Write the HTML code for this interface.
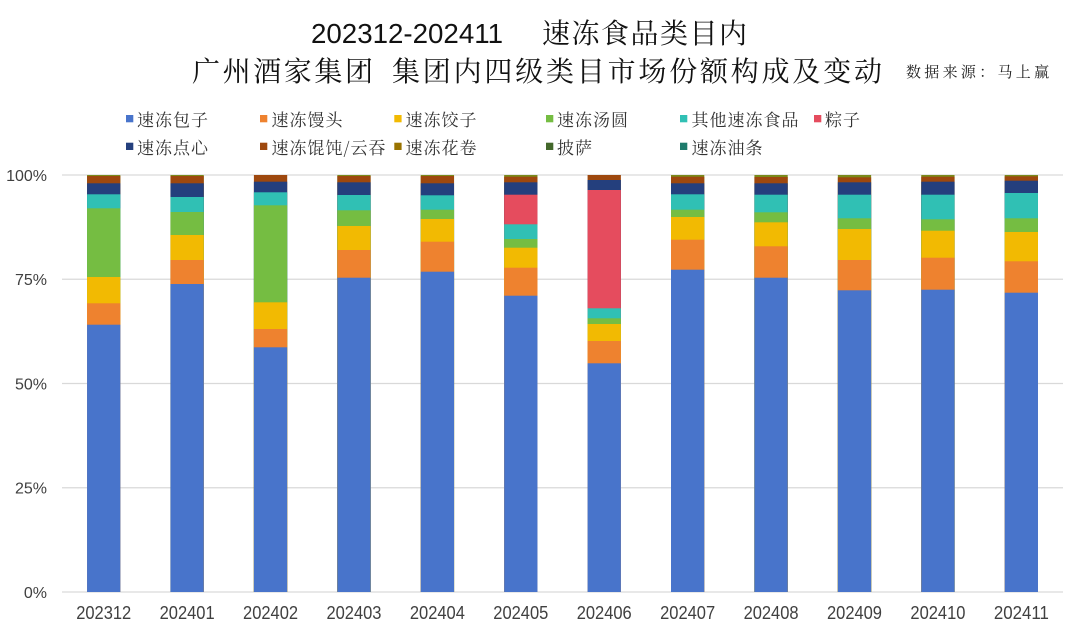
<!DOCTYPE html>
<html><head><meta charset="utf-8"><style>
html,body{margin:0;padding:0;background:#fff;}
svg{display:block;}
.cjk{font-family:"Noto Serif CJK SC","Noto Sans CJK SC",serif;}
.lat{font-family:"Liberation Sans","Noto Sans CJK SC",sans-serif;}
</style></head><body>
<svg width="1080" height="632" viewBox="0 0 1080 632" xmlns="http://www.w3.org/2000/svg">
<rect width="1080" height="632" fill="#fff"/>
<!-- titles -->
<text class="lat" x="311" y="43" font-size="28" fill="#111" textLength="192" lengthAdjust="spacingAndGlyphs">202312-202411</text>
<text class="cjk" x="542" y="43" font-size="28" fill="#111" style="letter-spacing:1.5px">速冻食品类目内</text>
<text class="cjk" x="192" y="81" font-size="28" fill="#111" style="letter-spacing:2.6px">广州酒家集团</text>
<text class="cjk" x="392" y="81" font-size="28" fill="#111" style="letter-spacing:2.8px">集团内四级类目市场份额构成及变动</text>
<text class="cjk" x="906" y="77" font-size="15" fill="#222" style="letter-spacing:3.3px">数据来源：马上赢</text>

<!-- legend -->
<g class="cjk" font-size="17" fill="#333" style="letter-spacing:1px">
<rect x="126" y="115" width="7.3" height="7.3" fill="#4874CB"/><text x="137" y="126">速冻包子</text>
<rect x="260" y="115" width="7.3" height="7.3" fill="#EE822F"/><text x="271.5" y="126">速冻馒头</text>
<rect x="394.3" y="115" width="7.3" height="7.3" fill="#F2BA02"/><text x="405.5" y="126">速冻饺子</text>
<rect x="546" y="115" width="7.3" height="7.3" fill="#75BD42"/><text x="557" y="126">速冻汤圆</text>
<rect x="680" y="115" width="7.3" height="7.3" fill="#30C0B4"/><text x="691.5" y="126">其他速冻食品</text>
<rect x="814" y="115" width="7.3" height="7.3" fill="#E54C5E"/><text x="825" y="126">粽子</text>
<rect x="126" y="142.7" width="7.3" height="7.3" fill="#243F7D"/><text x="137" y="154">速冻点心</text>
<rect x="260" y="142.7" width="7.3" height="7.3" fill="#9E480E"/><text x="271.5" y="154">速冻馄饨/云吞</text>
<rect x="394.3" y="142.7" width="7.3" height="7.3" fill="#997300"/><text x="405.5" y="154">速冻花卷</text>
<rect x="546" y="142.7" width="7.3" height="7.3" fill="#43682B"/><text x="557" y="154">披萨</text>
<rect x="680" y="142.7" width="7.3" height="7.3" fill="#1E7B6C"/><text x="691.5" y="154">速冻油条</text>
</g>

<!-- gridlines -->
<g stroke="#d9d9d9" stroke-width="1.2">
<line x1="62" y1="175" x2="1063" y2="175"/>
<line x1="62" y1="279.25" x2="1063" y2="279.25"/>
<line x1="62" y1="383.5" x2="1063" y2="383.5"/>
<line x1="62" y1="487.75" x2="1063" y2="487.75"/>
<line x1="62" y1="592" x2="1063" y2="592"/>
</g>

<!-- y labels -->
<g class="lat" font-size="16" fill="#404040" text-anchor="end">
<text x="47" y="180.8">100%</text>
<text x="47" y="285">75%</text>
<text x="47" y="389.3">50%</text>
<text x="47" y="493.5">25%</text>
<text x="47" y="597.8">0%</text>
</g>

<!-- bars: each rect extends to baseline, drawn top segment first -->
<g>
<g transform="translate(87.06,0)">
<rect y="175" width="33.3" height="417" fill="#7a8a1a"/>
<rect y="176" width="33.3" height="416" fill="#9E480E"/>
<rect y="183.3" width="33.3" height="408.7" fill="#243F7D"/>
<rect y="194.3" width="33.3" height="397.7" fill="#30C0B4"/>
<rect y="208.3" width="33.3" height="383.7" fill="#75BD42"/>
<rect y="277" width="33.3" height="315" fill="#F2BA02"/>
<rect y="303.3" width="33.3" height="288.7" fill="#EE822F"/>
<rect y="324.7" width="33.3" height="267.3" fill="#4874CB"/>
</g>
<g transform="translate(170.48,0)">
<rect y="175" width="33.3" height="417" fill="#7a8a1a"/>
<rect y="176" width="33.3" height="416" fill="#9E480E"/>
<rect y="183.3" width="33.3" height="408.7" fill="#243F7D"/>
<rect y="197" width="33.3" height="395" fill="#30C0B4"/>
<rect y="212" width="33.3" height="380" fill="#75BD42"/>
<rect y="235" width="33.3" height="357" fill="#F2BA02"/>
<rect y="260" width="33.3" height="332" fill="#EE822F"/>
<rect y="284" width="33.3" height="308" fill="#4874CB"/>
</g>
<g transform="translate(253.9,0)">
<rect y="175" width="33.3" height="417" fill="#9E480E"/>
<rect y="181.7" width="33.3" height="410.3" fill="#243F7D"/>
<rect y="192.3" width="33.3" height="399.7" fill="#30C0B4"/>
<rect y="205.3" width="33.3" height="386.7" fill="#75BD42"/>
<rect y="302.3" width="33.3" height="289.7" fill="#F2BA02"/>
<rect y="329" width="33.3" height="263" fill="#EE822F"/>
<rect y="347.3" width="33.3" height="244.7" fill="#4874CB"/>
</g>
<g transform="translate(337.32,0)">
<rect y="175" width="33.3" height="417" fill="#7a8a1a"/>
<rect y="176" width="33.3" height="416" fill="#9E480E"/>
<rect y="182.3" width="33.3" height="409.7" fill="#243F7D"/>
<rect y="195" width="33.3" height="397" fill="#30C0B4"/>
<rect y="210.3" width="33.3" height="381.7" fill="#75BD42"/>
<rect y="226" width="33.3" height="366" fill="#F2BA02"/>
<rect y="250" width="33.3" height="342" fill="#EE822F"/>
<rect y="277.7" width="33.3" height="314.3" fill="#4874CB"/>
</g>
<g transform="translate(420.74,0)">
<rect y="175" width="33.3" height="417" fill="#7a8a1a"/>
<rect y="176" width="33.3" height="416" fill="#9E480E"/>
<rect y="183.3" width="33.3" height="408.7" fill="#243F7D"/>
<rect y="195.3" width="33.3" height="396.7" fill="#30C0B4"/>
<rect y="209.7" width="33.3" height="382.3" fill="#75BD42"/>
<rect y="219" width="33.3" height="373" fill="#F2BA02"/>
<rect y="241.7" width="33.3" height="350.3" fill="#EE822F"/>
<rect y="271.7" width="33.3" height="320.3" fill="#4874CB"/>
</g>
<g transform="translate(504.16,0)">
<rect y="175" width="33.3" height="417" fill="#7a8a1a"/>
<rect y="176.7" width="33.3" height="415.3" fill="#9E480E"/>
<rect y="182.3" width="33.3" height="409.7" fill="#243F7D"/>
<rect y="194.7" width="33.3" height="397.3" fill="#E54C5E"/>
<rect y="224.3" width="33.3" height="367.7" fill="#30C0B4"/>
<rect y="239" width="33.3" height="353" fill="#75BD42"/>
<rect y="247.7" width="33.3" height="344.3" fill="#F2BA02"/>
<rect y="267.7" width="33.3" height="324.3" fill="#EE822F"/>
<rect y="295.7" width="33.3" height="296.3" fill="#4874CB"/>
</g>
<g transform="translate(587.58,0)">
<rect y="175" width="33.3" height="417" fill="#9E480E"/>
<rect y="180" width="33.3" height="412" fill="#243F7D"/>
<rect y="190" width="33.3" height="402" fill="#E54C5E"/>
<rect y="308.3" width="33.3" height="283.7" fill="#30C0B4"/>
<rect y="318.3" width="33.3" height="273.7" fill="#75BD42"/>
<rect y="324" width="33.3" height="268" fill="#F2BA02"/>
<rect y="341" width="33.3" height="251" fill="#EE822F"/>
<rect y="363.3" width="33.3" height="228.7" fill="#4874CB"/>
</g>
<g transform="translate(671,0)">
<rect y="175" width="33.3" height="417" fill="#7a8a1a"/>
<rect y="176.7" width="33.3" height="415.3" fill="#9E480E"/>
<rect y="183.3" width="33.3" height="408.7" fill="#243F7D"/>
<rect y="194.3" width="33.3" height="397.7" fill="#30C0B4"/>
<rect y="209.7" width="33.3" height="382.3" fill="#75BD42"/>
<rect y="217" width="33.3" height="375" fill="#F2BA02"/>
<rect y="239.7" width="33.3" height="352.3" fill="#EE822F"/>
<rect y="269.7" width="33.3" height="322.3" fill="#4874CB"/>
</g>
<g transform="translate(754.42,0)">
<rect y="175" width="33.3" height="417" fill="#7a8a1a"/>
<rect y="177" width="33.3" height="415" fill="#9E480E"/>
<rect y="183.3" width="33.3" height="408.7" fill="#243F7D"/>
<rect y="194.7" width="33.3" height="397.3" fill="#30C0B4"/>
<rect y="212.3" width="33.3" height="379.7" fill="#75BD42"/>
<rect y="222.3" width="33.3" height="369.7" fill="#F2BA02"/>
<rect y="246.3" width="33.3" height="345.7" fill="#EE822F"/>
<rect y="277.7" width="33.3" height="314.3" fill="#4874CB"/>
</g>
<g transform="translate(837.84,0)">
<rect y="175" width="33.3" height="417" fill="#7a8a1a"/>
<rect y="177.3" width="33.3" height="414.7" fill="#9E480E"/>
<rect y="182.3" width="33.3" height="409.7" fill="#243F7D"/>
<rect y="194.7" width="33.3" height="397.3" fill="#30C0B4"/>
<rect y="218.3" width="33.3" height="373.7" fill="#75BD42"/>
<rect y="229" width="33.3" height="363" fill="#F2BA02"/>
<rect y="260" width="33.3" height="332" fill="#EE822F"/>
<rect y="290.3" width="33.3" height="301.7" fill="#4874CB"/>
</g>
<g transform="translate(921.26,0)">
<rect y="175" width="33.3" height="417" fill="#7a8a1a"/>
<rect y="176.7" width="33.3" height="415.3" fill="#9E480E"/>
<rect y="181.7" width="33.3" height="410.3" fill="#243F7D"/>
<rect y="194.7" width="33.3" height="397.3" fill="#30C0B4"/>
<rect y="219.3" width="33.3" height="372.7" fill="#75BD42"/>
<rect y="230.7" width="33.3" height="361.3" fill="#F2BA02"/>
<rect y="257.7" width="33.3" height="334.3" fill="#EE822F"/>
<rect y="289.7" width="33.3" height="302.3" fill="#4874CB"/>
</g>
<g transform="translate(1004.68,0)">
<rect y="175" width="33.3" height="417" fill="#7a8a1a"/>
<rect y="176.3" width="33.3" height="415.7" fill="#9E480E"/>
<rect y="180.7" width="33.3" height="411.3" fill="#243F7D"/>
<rect y="193" width="33.3" height="399" fill="#30C0B4"/>
<rect y="218.3" width="33.3" height="373.7" fill="#75BD42"/>
<rect y="232" width="33.3" height="360" fill="#F2BA02"/>
<rect y="261.3" width="33.3" height="330.7" fill="#EE822F"/>
<rect y="292.7" width="33.3" height="299.3" fill="#4874CB"/>
</g>
</g>

<!-- x labels -->
<g class="lat" font-size="18" fill="#404040" text-anchor="middle">
<text x="103.71" y="619" textLength="55" lengthAdjust="spacingAndGlyphs">202312</text>
<text x="187.13" y="619" textLength="55" lengthAdjust="spacingAndGlyphs">202401</text>
<text x="270.55" y="619" textLength="55" lengthAdjust="spacingAndGlyphs">202402</text>
<text x="353.97" y="619" textLength="55" lengthAdjust="spacingAndGlyphs">202403</text>
<text x="437.39" y="619" textLength="55" lengthAdjust="spacingAndGlyphs">202404</text>
<text x="520.81" y="619" textLength="55" lengthAdjust="spacingAndGlyphs">202405</text>
<text x="604.23" y="619" textLength="55" lengthAdjust="spacingAndGlyphs">202406</text>
<text x="687.65" y="619" textLength="55" lengthAdjust="spacingAndGlyphs">202407</text>
<text x="771.07" y="619" textLength="55" lengthAdjust="spacingAndGlyphs">202408</text>
<text x="854.49" y="619" textLength="55" lengthAdjust="spacingAndGlyphs">202409</text>
<text x="937.91" y="619" textLength="55" lengthAdjust="spacingAndGlyphs">202410</text>
<text x="1021.33" y="619" textLength="55" lengthAdjust="spacingAndGlyphs">202411</text>
</g>
</svg>
</body></html>
